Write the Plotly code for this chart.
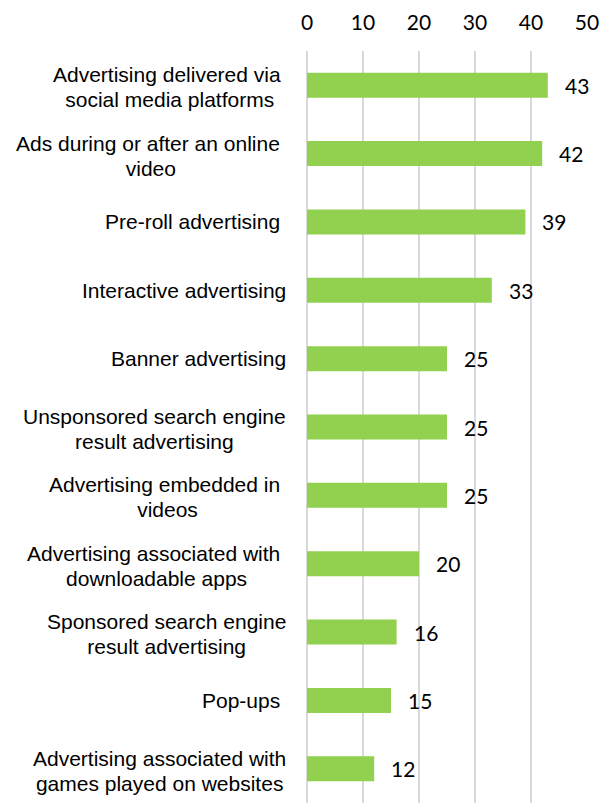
import plotly.graph_objects as go

# Share of respondents by advertising format
categories = [
    "Advertising delivered via\u00a0<br>social media platforms",
    "Ads during or after an online\u00a0<br>video",
    "Pre-roll advertising\u00a0",
    "Interactive advertising",
    "Banner advertising",
    "Unsponsored search engine<br>result advertising",
    "Advertising embedded in\u00a0<br>videos",
    "Advertising associated with\u00a0<br>downloadable apps",
    "Sponsored search engine<br>result advertising",
    "Pop-ups\u00a0",
    "Advertising associated with<br>games played on websites",
]
values = [43, 42, 39, 33, 25, 25, 25, 20, 16, 15, 12]
x_ticks = [0, 10, 20, 30, 40, 50]

BAR_GREEN = "#92D050"
GRID_GREY = "#D9D9D9"
LABEL_FAMILY = "Liberation Sans, Arial, sans-serif"
NUM_FONT = dict(family="Lato, Open Sans, sans-serif", size=21, color="#000000")


def tight_label(text, px=21):
    # wrap every line in a sized span; the annotation's own (smaller) font
    # size then only sets the gap between lines
    return "<br>".join(
        f'<span style="font-size:{px}px">{line}</span>' for line in text.split("<br>")
    )


fig = go.Figure(
    go.Bar(
        x=values,
        y=categories,
        orientation="h",
        marker=dict(color=BAR_GREEN, line=dict(width=0)),
        hoverinfo="skip",
    )
)

annotations = []
# value labels to the right of each bar
for cat, val in zip(categories, values):
    annotations.append(dict(
        x=val, y=cat, xref="x", yref="y", text=str(val),
        showarrow=False, xanchor="left", yanchor="middle", xshift=15,
        font=NUM_FONT,
    ))
# centred, multi-line category labels on the left
for cat in categories:
    multi = "<br>" in cat
    annotations.append(dict(
        x=0, y=cat, xref="paper", yref="y", text=tight_label(cat),
        showarrow=False, xanchor="right", yanchor="middle", xshift=-19,
        yshift=-2 if multi else 0,
        align="center",
        font=dict(family=LABEL_FAMILY, size=19, color="#000000"),
    ))

fig.update_layout(
    width=615,
    height=803,
    margin=dict(l=307, r=28, t=51, b=0),
    paper_bgcolor="white",
    plot_bgcolor="white",
    bargap=0.634,
    showlegend=False,
    annotations=annotations,
    xaxis=dict(
        range=[0, 50],
        side="top",
        tickvals=x_ticks,
        ticktext=[str(t) for t in x_ticks],
        ticks="",
        ticklabelstandoff=16,
        tickfont=NUM_FONT,
        showgrid=True,
        gridcolor=GRID_GREY,
        gridwidth=1.5,
        zeroline=True,
        zerolinecolor=GRID_GREY,
        zerolinewidth=1.5,
        showline=False,
        fixedrange=True,
    ),
    yaxis=dict(
        categoryorder="array",
        categoryarray=categories,
        autorange="reversed",
        showticklabels=False,
        showgrid=False,
        zeroline=False,
        showline=False,
        ticks="",
        fixedrange=True,
    ),
)

fig.write_html("out.html")
